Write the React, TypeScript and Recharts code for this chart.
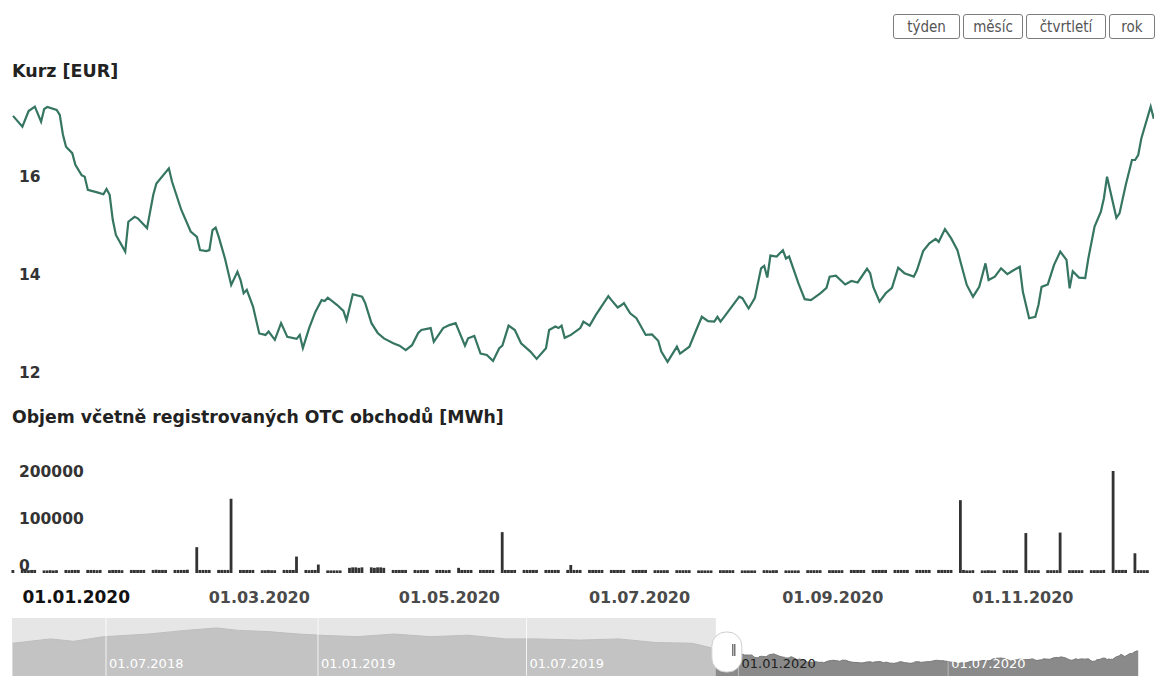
import React from "react";
import {
  Area,
  AreaChart,
  Bar,
  BarChart,
  Line,
  LineChart,
  ReferenceArea,
  ReferenceLine,
  XAxis,
  YAxis,
} from "recharts";

// Kurz [EUR], one point per visible kink
const priceDates = [
  "2019-12-13", "2019-12-16", "2019-12-18", "2019-12-20", "2019-12-22", "2019-12-23", "2019-12-24",
  "2019-12-27", "2019-12-28", "2019-12-29", "2019-12-30", "2020-01-01", "2020-01-02", "2020-01-04",
  "2020-01-05", "2020-01-06", "2020-01-09", "2020-01-11", "2020-01-12", "2020-01-13", "2020-01-14",
  "2020-01-15", "2020-01-18", "2020-01-19", "2020-01-21", "2020-01-22", "2020-01-25", "2020-01-27",
  "2020-01-28", "2020-02-01", "2020-02-02", "2020-02-05", "2020-02-08", "2020-02-10", "2020-02-11",
  "2020-02-13", "2020-02-14", "2020-02-15", "2020-02-16", "2020-02-17", "2020-02-19", "2020-02-21",
  "2020-02-23", "2020-02-24", "2020-02-25", "2020-02-26", "2020-02-28", "2020-03-01", "2020-03-03",
  "2020-03-04", "2020-03-06", "2020-03-08", "2020-03-10", "2020-03-13", "2020-03-14", "2020-03-15",
  "2020-03-17", "2020-03-19", "2020-03-21", "2020-03-22", "2020-03-23", "2020-03-26", "2020-03-28",
  "2020-03-29", "2020-03-31", "2020-04-03", "2020-04-04", "2020-04-06", "2020-04-08", "2020-04-10",
  "2020-04-13", "2020-04-15", "2020-04-17", "2020-04-19", "2020-04-21", "2020-04-22", "2020-04-25",
  "2020-04-26", "2020-04-29", "2020-05-01", "2020-05-03", "2020-05-06", "2020-05-07", "2020-05-09",
  "2020-05-11", "2020-05-13", "2020-05-15", "2020-05-17", "2020-05-18", "2020-05-20", "2020-05-22",
  "2020-05-24", "2020-05-27", "2020-05-29", "2020-06-01", "2020-06-02", "2020-06-04", "2020-06-05",
  "2020-06-06", "2020-06-07", "2020-06-09", "2020-06-12", "2020-06-13", "2020-06-15", "2020-06-17",
  "2020-06-21", "2020-06-22", "2020-06-24", "2020-06-25", "2020-06-26", "2020-06-28", "2020-06-30",
  "2020-07-03", "2020-07-05", "2020-07-07", "2020-07-08", "2020-07-10", "2020-07-13", "2020-07-14",
  "2020-07-17", "2020-07-19", "2020-07-21", "2020-07-23", "2020-07-25", "2020-07-26", "2020-07-27",
  "2020-07-29", "2020-08-02", "2020-08-03", "2020-08-05", "2020-08-07", "2020-08-09", "2020-08-10",
  "2020-08-11", "2020-08-12", "2020-08-14", "2020-08-16", "2020-08-17", "2020-08-18", "2020-08-21",
  "2020-08-23", "2020-08-25", "2020-08-28", "2020-08-30", "2020-08-31", "2020-09-02", "2020-09-05",
  "2020-09-07", "2020-09-09", "2020-09-12", "2020-09-13", "2020-09-14", "2020-09-16", "2020-09-18",
  "2020-09-20", "2020-09-22", "2020-09-24", "2020-09-27", "2020-09-28", "2020-09-30", "2020-10-02",
  "2020-10-04", "2020-10-05", "2020-10-07", "2020-10-09", "2020-10-11", "2020-10-12", "2020-10-14",
  "2020-10-16", "2020-10-18", "2020-10-20", "2020-10-21", "2020-10-23", "2020-10-25", "2020-10-27",
  "2020-10-29", "2020-10-31", "2020-11-01", "2020-11-03", "2020-11-05", "2020-11-06", "2020-11-07",
  "2020-11-09", "2020-11-11", "2020-11-13", "2020-11-15", "2020-11-16", "2020-11-17", "2020-11-19",
  "2020-11-21", "2020-11-22", "2020-11-24", "2020-11-26", "2020-11-27", "2020-11-28", "2020-12-01",
  "2020-12-02", "2020-12-04", "2020-12-06", "2020-12-07", "2020-12-08", "2020-12-09", "2020-12-12",
  "2020-12-13",
];
const priceValues = [
  17.39, 17.17, 17.49, 17.58, 17.27, 17.53, 17.57,
  17.51, 17.41, 17.01, 16.76, 16.63, 16.39, 16.18,
  16.15, 15.88, 15.83, 15.79, 15.9, 15.78, 15.27,
  14.96, 14.62, 15.23, 15.33, 15.3, 15.1, 15.78,
  16.01, 16.32, 16.05, 15.47, 15.03, 14.92, 14.65,
  14.63, 14.65, 15.06, 15.11, 14.92, 14.48, 13.94,
  14.21, 14.04, 13.77, 13.84, 13.5, 12.95, 12.92,
  12.99, 12.82, 13.16, 12.88, 12.84, 12.92, 12.65,
  13.06, 13.39, 13.63, 13.61, 13.68, 13.53, 13.41,
  13.22, 13.75, 13.7, 13.57, 13.16, 12.96, 12.85,
  12.75, 12.7, 12.61, 12.71, 12.96, 13.02, 13.06,
  12.78, 13.06, 13.12, 13.16, 12.7, 12.85, 12.9,
  12.54, 12.51, 12.39, 12.65, 12.7, 13.11, 13.02,
  12.75, 12.58, 12.43, 12.65, 13.02, 13.09, 13.06,
  13.11, 12.86, 12.92, 13.06, 13.19, 13.11, 13.33,
  13.71, 13.63, 13.48, 13.52, 13.57, 13.36, 13.26,
  12.92, 12.93, 12.8, 12.58, 12.37, 12.68, 12.54,
  12.68, 12.99, 13.29, 13.2, 13.19, 13.29, 13.19,
  13.36, 13.7, 13.67, 13.46, 13.67, 14.28, 14.33,
  14.09, 14.54, 14.52, 14.65, 14.48, 14.52, 13.97,
  13.65, 13.63, 13.77, 13.88, 14.11, 14.13, 13.95,
  14.02, 13.99, 14.27, 14.18, 13.9, 13.6, 13.77,
  13.88, 14.29, 14.18, 14.11, 14.24, 14.63, 14.79,
  14.88, 14.82, 15.08, 14.89, 14.65, 14.41, 13.94,
  13.7, 13.9, 14.38, 14.04, 14.11, 14.28, 14.16,
  14.24, 14.31, 13.8, 13.26, 13.29, 13.53, 13.9,
  13.95, 14.35, 14.62, 14.45, 13.87, 14.22, 14.09,
  14.08, 14.48, 15.13, 15.43, 15.71, 16.15, 15.31,
  15.4, 15.98, 16.49, 16.49, 16.59, 16.93, 17.58,
  17.33,
];

// older history, only visible in the navigator strip
const navHistoryDates = [
  "2018-04-11", "2018-05-14", "2018-06-03", "2018-06-29", "2018-08-07", "2018-09-08",
  "2018-10-05", "2018-10-24", "2018-11-19", "2018-12-15", "2019-01-03", "2019-02-04",
  "2019-03-08", "2019-04-09", "2019-05-11", "2019-06-13", "2019-07-09", "2019-08-17",
  "2019-09-19", "2019-10-21", "2019-11-22", "2019-12-11",
];
const navHistoryValues = [
  20.7, 22.5, 21.5, 23.4, 24.5, 26.0,
  27.0, 26.0, 25.5, 24.5, 24.0, 23.4,
  24.5, 23.4, 24.0, 22.5, 22.5, 22.0,
  22.5, 21.0, 20.7, 18.5,
];

// Objem [MWh]: one row per week (Mon..Fri)
const volumeWeeks = [
  "2019-12-09", "2019-12-16", "2019-12-23", "2019-12-30", "2020-01-06", "2020-01-13", "2020-01-20",
  "2020-01-27", "2020-02-03", "2020-02-10", "2020-02-17", "2020-02-24", "2020-03-02", "2020-03-09",
  "2020-03-16", "2020-03-23", "2020-03-30", "2020-04-06", "2020-04-13", "2020-04-20", "2020-04-27",
  "2020-05-04", "2020-05-11", "2020-05-18", "2020-05-25", "2020-06-01", "2020-06-08", "2020-06-15",
  "2020-06-22", "2020-06-29", "2020-07-06", "2020-07-13", "2020-07-20", "2020-07-27", "2020-08-03",
  "2020-08-10", "2020-08-17", "2020-08-24", "2020-08-31", "2020-09-07", "2020-09-14", "2020-09-21",
  "2020-09-28", "2020-10-05", "2020-10-12", "2020-10-19", "2020-10-26", "2020-11-02", "2020-11-09",
  "2020-11-16", "2020-11-23", "2020-11-30", "2020-12-07",
];
const volumeDaily: (number | null)[][] = [
  [null, null, null, null, 6500],
  [6500, 6500, 6000, 6500, 6500],
  [5500, 5500, 6000, 5500, 6000],
  [6500, 6000, 6500, 6500, 6500],
  [6500, 6500, 6500, 6000, 6500],
  [6000, 6500, 6500, 6500, 6000],
  [6500, 6500, 6500, 6500, 6500],
  [6500, 7000, 6500, 6500, 6500],
  [6500, 6500, 6500, 6500, 7000],
  [55000, 6500, 6500, 6500, 6500],
  [6500, 6500, 6500, 6500, 158000],
  [6500, 6500, 6500, 6500, 6500],
  [6000, 6000, 6500, 6000, 6000],
  [6500, 6500, 6500, 6500, 35000],
  [6500, 6000, 6500, 6500, 18000],
  [5500, 5500, 5500, 5500, 5500],
  [11000, 12000, 12000, 11000, 12000],
  [12000, 11000, 12000, 12000, 11000],
  [6500, 6500, 6500, 6500, 6500],
  [6500, 6000, 6500, 6500, 6500],
  [6500, 6500, 6500, 6000, 6500],
  [11000, 6500, 6500, 6500, 6500],
  [6500, 6500, 6500, 6500, 6500],
  [87000, 6500, 6500, 6500, 6500],
  [6500, 6500, 6500, 6500, 6500],
  [6500, 6500, 6500, 6500, 6500],
  [6500, 17000, 6500, 6500, 6500],
  [6500, 6500, 6500, 6500, 6500],
  [6500, 6500, 6500, 6500, 6500],
  [6500, 6500, 6500, 6500, 6500],
  [6000, 6000, 6000, 6000, 6000],
  [6000, 6000, 6000, 6000, 6000],
  [5500, 5500, 5500, 5500, 5500],
  [6000, 6000, 6000, 6000, 6000],
  [5500, 5500, 5500, 5500, 5500],
  [6000, 6000, 5500, 6000, 6000],
  [5500, 5500, 5500, 5500, 5500],
  [6000, 6000, 6000, 6000, 6000],
  [6000, 6000, 6000, 6000, 6000],
  [6500, 6500, 6500, 6500, 6500],
  [6500, 6500, 6500, 6500, 6500],
  [6500, 6500, 6500, 6500, 6500],
  [6500, 6500, 6500, 6500, 6500],
  [6500, 6500, 6500, 6500, 6500],
  [155000, 6500, 5500, 5500, 6000],
  [5500, 5500, 6000, 5500, 5500],
  [6000, 6000, 6000, 6000, 6000],
  [85000, 6000, 6000, 6000, 6000],
  [6000, 6000, 6000, 6000, 86000],
  [6000, 6000, 6000, 6000, 6000],
  [6000, 6000, 6000, 6000, 6500],
  [217000, 6500, 6500, 6500, 6500],
  [42000, 6000, 6000, 6000, 6000],
];

const priceTicks = [12, 14, 16];
const volumeTicks = [0, 100000, 200000];
const dateTickLabels = ["2020-01-01", "2020-03-01", "2020-05-01", "2020-07-01", "2020-09-01", "2020-11-01"];
const navTickLabels = ["2018-07-01", "2019-01-01", "2019-07-01", "2020-01-01", "2020-07-01"];
const rangeButtons = [
  { label: "týden", width: 67 },
  { label: "měsíc", width: 60 },
  { label: "čtvrtletí", width: 80 },
  { label: "rok", width: 46 },
];

const DAY = 86400000;
const ts = (s: string) => Date.parse(s + "T00:00:00Z");
const fmtDate = (t: number) => {
  const d = new Date(t);
  const p = (n: number) => String(n).padStart(2, "0");
  return `${p(d.getUTCDate())}.${p(d.getUTCMonth() + 1)}.${d.getUTCFullYear()}`;
};

const FONT = '"DejaVu Sans", Verdana, sans-serif';
const LINE_COLOR = "#357562";
const BAR_COLOR = "#333";

// visible window (the "rok" range) and the navigator's full span
const mainDomain: [number, number] = [ts("2019-12-12") + 0.35 * DAY, ts("2020-12-13") + 0.07 * DAY];
const navDomain: [number, number] = [ts("2018-07-01") - 81.6 * DAY, ts("2018-07-01") + 909.7 * DAY];
const navValueDomain: [number, number] = [-7.6, 31.1];

const priceData = priceDates.map((d, i) => ({ t: ts(d), v: priceValues[i] }));
const navData = [
  ...navHistoryDates.map((d, i) => ({ t: ts(d), v: navHistoryValues[i] })),
  ...priceData,
];
const volumeData = volumeWeeks
  .flatMap((w, i) => volumeDaily[i].map((v, j) => ({ t: ts(w) + j * DAY, v })))
  .filter((p) => p.v !== null);

function ValueTick(props: any) {
  const { x, y, payload } = props;
  return (
    <text x={x} y={y - 7} dy="0.35em" textAnchor="start" fontFamily={FONT} fontSize={15.5} fontWeight="bold" fill="#333">
      {payload.value}
    </text>
  );
}

function DateTick(props: any) {
  const { x, y, payload, index } = props;
  const first = index === 0;
  return (
    <text
      x={first ? x + 4 : x}
      y={y + 24}
      dy="0.35em"
      textAnchor="middle"
      fontFamily={FONT}
      fontSize={first ? 17 : 16}
      fontWeight="bold"
      fill={first ? "#111" : "#4a4a4a"}
    >
      {fmtDate(payload.value)}
    </text>
  );
}

function navLabel(text: string, color: string) {
  return (props: any) => {
    const vb = props.viewBox || {};
    return (
      <text x={vb.x + 3} y={vb.y + 45} dy="0.35em" fontFamily={FONT} fontSize={13} fill={color}>
        {text}
      </text>
    );
  };
}

function NavHandle(props: any) {
  const vb = props.viewBox || {};
  const x = vb.x;
  const y = vb.y + 14;
  return (
    <g>
      <rect x={x - 4} y={y} width={30} height={40} rx={14} fill="#fff" stroke="#cfcfcf" />
      <line x1={x + 17} y1={y + 12} x2={x + 17} y2={y + 24} stroke="#333" strokeWidth={1} />
      <line x1={x + 19} y1={y + 12} x2={x + 19} y2={y + 24} stroke="#333" strokeWidth={1} />
    </g>
  );
}

export default function App() {
  return (
    <div
      style={{
        position: "absolute",
        left: 0,
        top: 0,
        width: 1166,
        height: 676,
        overflow: "hidden",
        background: "#fff",
        fontFamily: FONT,
      }}
    >
      {/* range selector */}
      <div style={{ position: "absolute", top: 14, left: 893, display: "flex", gap: 3 }}>
        {rangeButtons.map((b) => (
          <div
            key={b.label}
            style={{
              width: b.width,
              height: 25,
              boxSizing: "border-box",
              border: "1px solid #7c7c7c",
              borderRadius: 3,
              color: "#555",
              fontFamily: '"DejaVu Sans Condensed", "DejaVu Sans", sans-serif',
              fontSize: 15,
              display: "flex",
              alignItems: "center",
              justifyContent: "center",
            }}
          >
            {b.label}
          </div>
        ))}
      </div>

      <div style={{ position: "absolute", left: 12, top: 61, fontSize: 17.5, fontWeight: "bold", color: "#222" }}>
        Kurz [EUR]
      </div>
      <div style={{ position: "absolute", left: 12, top: 407, fontSize: 17.3, fontWeight: "bold", color: "#222" }}>
        Objem včetně registrovaných OTC obchodů [MWh]
      </div>

      {/* price line */}
      <div style={{ position: "absolute", left: 0, top: 0 }}>
        <LineChart width={1166} height={400} data={priceData} margin={{ top: 95.8, right: 12, bottom: 10.2, left: 11 }}>
          <XAxis dataKey="t" type="number" domain={mainDomain} allowDataOverflow hide height={0} />
          <YAxis
            type="number"
            domain={[11.8, 17.8]}
            ticks={priceTicks}
            width={1}
            mirror
            axisLine={false}
            tickLine={false}
            tickSize={0}
            tickMargin={8}
            tick={<ValueTick />}
          />
          <Line dataKey="v" type="linear" stroke={LINE_COLOR} strokeWidth={2.2} dot={false} isAnimationActive={false} />
        </LineChart>
      </div>

      {/* volume bars */}
      <div style={{ position: "absolute", left: 0, top: 440 }}>
        <BarChart width={1166} height={180} data={volumeData} margin={{ top: 24.9, right: 12, bottom: 7, left: 11 }}>
          <XAxis
            dataKey="t"
            type="number"
            domain={mainDomain}
            allowDataOverflow
            ticks={dateTickLabels.map(ts)}
            interval={0}
            height={40}
            axisLine={false}
            tickLine={false}
            tickSize={0}
            tickMargin={0}
            tick={<DateTick />}
          />
          <YAxis
            type="number"
            domain={[0, 230000]}
            ticks={volumeTicks}
            width={1}
            mirror
            axisLine={false}
            tickLine={false}
            tickSize={0}
            tickMargin={8}
            tick={<ValueTick />}
          />
          <Bar dataKey="v" fill={BAR_COLOR} barSize={4} isAnimationActive={false} />
        </BarChart>
      </div>

      {/* navigator */}
      <div style={{ position: "absolute", left: 0, top: 618 }}>
        <AreaChart width={1166} height={94} data={navData} margin={{ top: 0, right: 12, bottom: 0, left: 12 }}>
          <XAxis dataKey="t" type="number" domain={navDomain} allowDataOverflow hide height={0} />
          <YAxis type="number" domain={navValueDomain} hide width={0} />
          <Area
            dataKey="v"
            type="linear"
            baseValue={navValueDomain[0]}
            fill="#8a8a8a"
            fillOpacity={1}
            stroke="#777"
            strokeWidth={1}
            isAnimationActive={false}
          />
          <ReferenceArea x1={navDomain[0]} x2={mainDomain[0]} fill="#dcdcdc" fillOpacity={0.7} stroke="none" />
          {navTickLabels.map((d, i) => (
            <ReferenceLine
              key={d}
              x={ts(d)}
              stroke="#fff"
              strokeOpacity={i < 3 ? 0.8 : 0.4}
              label={navLabel(fmtDate(ts(d)), i === 3 ? "#222" : "#fff")}
            />
          ))}
          <ReferenceLine x={mainDomain[0]} stroke="none" label={NavHandle} />
        </AreaChart>
      </div>
    </div>
  );
}
